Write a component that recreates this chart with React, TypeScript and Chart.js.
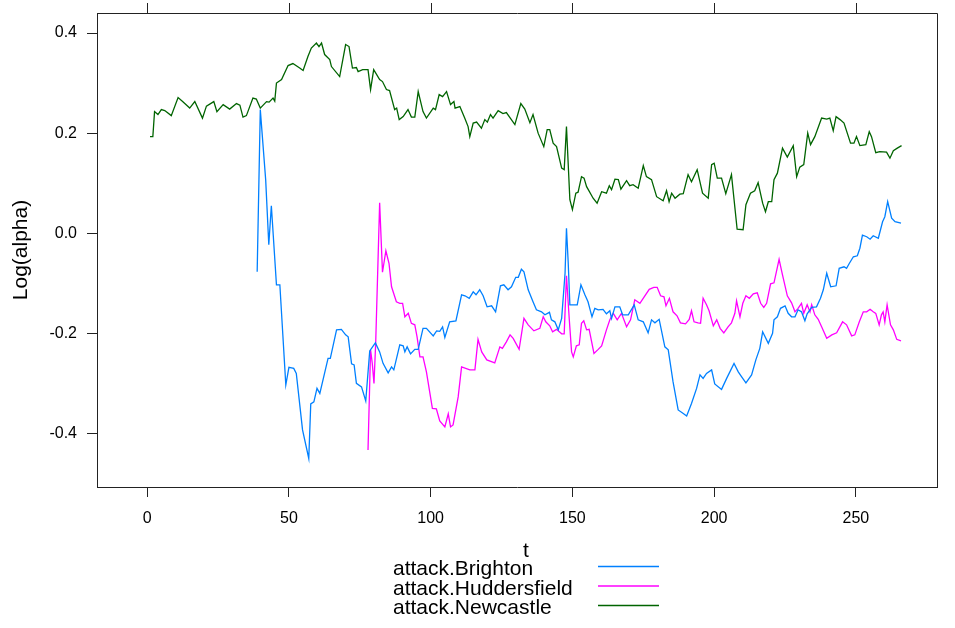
import { useEffect, useRef } from "react";
import { Chart, registerables } from "chart.js";

Chart.register(...registerables);

// Axis ticks
const xTickValues = [0, 50, 100, 150, 200, 250];
const yTickValues = [-0.4, -0.2, 0, 0.2, 0.4];

// Series names
const seriesNames = ["attack.Brighton", "attack.Huddersfield", "attack.Newcastle"];
const seriesColors = ["#0080ff", "#ff00ff", "#006400"];

// attack.Brighton
const brightonT = [38.8, 39.9, 41.8, 42.9, 43.8, 45.6, 46.8, 48.9, 50, 51.7, 52.6, 54.8, 57, 57.7, 58.8, 59.9, 60.9, 63.8, 64.6, 66.8, 68.5, 70, 70.9, 72.1, 73, 73.8, 75.6, 77.1, 78.5, 80.5, 82, 83.2, 85, 86.2, 87, 89.1, 90.3, 90.9, 91.7, 92.9, 94.4, 95.6, 97.3, 98.5, 100.9, 102.1, 103.2, 104.2, 105, 106.7, 108.9, 110.9, 112.1, 113.6, 115, 116, 117.3, 118.5, 119.9, 121.5, 122.9, 124.6, 125.8, 127.3, 128.5, 130, 130.9, 132, 132.9, 134.4, 136.1, 137.3, 139.1, 140.3, 141.9, 142.6, 143.8, 145, 146.2, 147.4, 147.9, 148.5, 149.1, 151.7, 153, 154.4, 155.5, 156.9, 157.9, 159.1, 160.8, 162, 163.2, 163.8, 165, 166.7, 167.7, 169.7, 171.8, 173.2, 175, 176.7, 177.9, 179.1, 180.6, 182.6, 183.8, 185.5, 187.3, 189.1, 190.3, 192, 193.8, 195, 196.1, 197.3, 199.1, 200.2, 202.6, 204.4, 207, 208.5, 209.7, 211.2, 213.2, 214.7, 216.1, 217.1, 219.1, 220.6, 221.1, 222.3, 223.4, 225, 226.1, 227.3, 228.5, 229.6, 230.8, 232, 232.8, 234.4, 236.1, 237.5, 238.5, 239.7, 241.1, 243, 244.1, 245.8, 246.7, 247.6, 249.1, 250.5, 251.4, 252.3, 253.8, 255, 256.1, 257.9, 259.4, 260.2, 261.2, 262.6, 263.8, 265.9];
const brightonV = [-0.077, 0.247, 0.107, -0.023, 0.055, -0.103, -0.103, -0.303, -0.268, -0.27, -0.28, -0.393, -0.45, -0.341, -0.337, -0.31, -0.32, -0.25, -0.25, -0.193, -0.192, -0.203, -0.207, -0.261, -0.263, -0.3, -0.307, -0.335, -0.235, -0.219, -0.237, -0.26, -0.279, -0.267, -0.273, -0.223, -0.225, -0.237, -0.227, -0.241, -0.232, -0.232, -0.19, -0.19, -0.205, -0.195, -0.196, -0.187, -0.208, -0.177, -0.175, -0.123, -0.125, -0.13, -0.117, -0.123, -0.113, -0.125, -0.147, -0.145, -0.157, -0.105, -0.103, -0.113, -0.107, -0.088, -0.088, -0.072, -0.077, -0.113, -0.137, -0.153, -0.157, -0.163, -0.158, -0.173, -0.177, -0.193, -0.17, -0.08, 0.01, -0.057, -0.143, -0.143, -0.103, -0.123, -0.137, -0.167, -0.15, -0.153, -0.152, -0.161, -0.155, -0.17, -0.147, -0.147, -0.163, -0.163, -0.143, -0.173, -0.177, -0.199, -0.173, -0.179, -0.172, -0.227, -0.233, -0.297, -0.353, -0.36, -0.365, -0.34, -0.31, -0.283, -0.29, -0.28, -0.273, -0.301, -0.312, -0.29, -0.26, -0.277, -0.287, -0.299, -0.283, -0.253, -0.23, -0.197, -0.22, -0.2, -0.173, -0.167, -0.15, -0.145, -0.16, -0.167, -0.167, -0.153, -0.157, -0.175, -0.161, -0.148, -0.147, -0.13, -0.113, -0.08, -0.107, -0.105, -0.07, -0.067, -0.07, -0.061, -0.047, -0.045, -0.03, -0.004, -0.007, -0.012, -0.005, -0.01, 0.023, 0.033, 0.063, 0.03, 0.023, 0.02];

// attack.Huddersfield
const huddersfieldT = [77.9, 78.8, 79.4, 80, 80.6, 82, 83, 84.2, 85.3, 86.2, 87.9, 89.1, 90.1, 90.9, 92.1, 93.2, 94.4, 95.2, 96.2, 97.3, 98.5, 100.6, 102, 103.2, 105, 106.2, 107, 107.9, 109.7, 110.9, 113.8, 115.6, 116.7, 118, 119.8, 122.6, 124.4, 125.3, 126.7, 128, 129.1, 131.2, 132.9, 134.4, 136.4, 138.5, 139.7, 140.6, 142, 143, 144.4, 146.2, 147.1, 147.9, 148.9, 149.7, 150.3, 151.4, 152.4, 153.2, 154, 155, 155.9, 157.6, 159.1, 160.3, 162, 163.2, 164.4, 165.8, 167.3, 169.1, 170.5, 172, 173.8, 175.2, 177.1, 178.7, 179.9, 181.1, 182.3, 183, 184.2, 185.5, 186.9, 188.1, 189.9, 191.2, 192, 192.9, 194.3, 195.2, 196.1, 197.3, 198.2, 199.7, 200.9, 202.1, 203.4, 204.9, 206.1, 207.3, 207.9, 209.1, 210.1, 211.2, 212.4, 213.8, 215.2, 216.4, 217.5, 218.5, 219.9, 221.1, 222.9, 224.1, 225.8, 227.3, 228.5, 229.6, 230.8, 231.6, 232.8, 233.8, 234.4, 235.5, 236.7, 237.9, 239.7, 241.5, 243.2, 245.3, 246.7, 248.5, 249.6, 251.2, 252.6, 253.8, 255, 256.1, 257, 258.2, 259, 259.6, 260.2, 261, 262.2, 263.2, 264.4, 265.9];
const huddersfieldV = [-0.433, -0.233, -0.26, -0.3, -0.22, 0.061, -0.078, -0.035, -0.06, -0.107, -0.137, -0.14, -0.14, -0.167, -0.16, -0.18, -0.183, -0.207, -0.247, -0.247, -0.277, -0.35, -0.351, -0.375, -0.387, -0.361, -0.387, -0.383, -0.327, -0.267, -0.273, -0.273, -0.212, -0.237, -0.253, -0.259, -0.227, -0.23, -0.217, -0.203, -0.21, -0.232, -0.17, -0.183, -0.195, -0.19, -0.167, -0.177, -0.185, -0.197, -0.192, -0.201, -0.201, -0.085, -0.173, -0.237, -0.247, -0.225, -0.223, -0.18, -0.175, -0.193, -0.192, -0.24, -0.232, -0.225, -0.193, -0.173, -0.16, -0.173, -0.16, -0.187, -0.173, -0.133, -0.14, -0.128, -0.112, -0.108, -0.108, -0.125, -0.127, -0.145, -0.13, -0.157, -0.165, -0.179, -0.181, -0.172, -0.155, -0.177, -0.179, -0.18, -0.13, -0.143, -0.155, -0.185, -0.173, -0.19, -0.199, -0.187, -0.179, -0.16, -0.135, -0.167, -0.14, -0.125, -0.13, -0.121, -0.119, -0.14, -0.148, -0.14, -0.101, -0.099, -0.052, -0.083, -0.125, -0.139, -0.157, -0.15, -0.14, -0.16, -0.143, -0.157, -0.143, -0.163, -0.172, -0.187, -0.21, -0.203, -0.199, -0.177, -0.183, -0.205, -0.203, -0.177, -0.157, -0.157, -0.152, -0.157, -0.16, -0.183, -0.163, -0.157, -0.177, -0.143, -0.183, -0.193, -0.212, -0.215];

// attack.Newcastle
const newcastleT = [1, 2, 2.6, 3.8, 5, 6.2, 8.5, 10.9, 12.5, 15, 16.8, 19.5, 20.9, 23.5, 24.6, 26.8, 29.1, 31.5, 32.7, 33.8, 35, 37.3, 38.5, 39.9, 42.1, 43, 44.4, 45, 45.6, 47.4, 49.7, 51.4, 53.8, 55, 56.7, 57.9, 59.7, 60.6, 61.5, 62.6, 64.4, 65, 67.9, 70, 71.2, 72.4, 73.8, 74.4, 76, 77.9, 78.8, 79.9, 82, 83, 84.4, 85.5, 87.3, 88, 88.9, 90.3, 92, 93.2, 94.4, 95.6, 97.3, 98.5, 100.9, 101.7, 103, 104.2, 105.6, 107, 108.2, 108.6, 110.3, 112, 113.2, 113.8, 115, 116.2, 117.9, 119.1, 120, 121.1, 122, 123.8, 125.5, 126.7, 129.7, 131.8, 133.2, 135, 136.1, 137.9, 139.9, 141.1, 142, 143.2, 144.4, 146.2, 147.1, 147.9, 149.1, 150, 151.2, 152, 153.2, 154.1, 155, 155.6, 157.3, 158.7, 160.3, 162, 163, 163.8, 165, 166.2, 167.1, 169.1, 170.2, 171.4, 173.2, 175, 176.1, 177.9, 179.7, 182, 183.2, 184.1, 185, 186.2, 187.9, 189.1, 190.8, 192, 194, 195.9, 197.9, 199.1, 200, 201.1, 202.6, 204.1, 206.1, 208.1, 210.2, 211.2, 212.8, 214.3, 215.5, 217.1, 218.1, 219.1, 220.3, 221.1, 222.3, 224.1, 225.8, 227.9, 229.1, 230.2, 231.6, 233, 234, 235.5, 237.9, 239.7, 240.8, 242, 243, 244.4, 245.8, 248.1, 249.3, 250.2, 251.4, 253.5, 254.7, 255.5, 257, 258.4, 260.8, 262, 263.2, 264.6, 266.1];
const newcastleV = [0.193, 0.193, 0.243, 0.237, 0.247, 0.245, 0.235, 0.271, 0.263, 0.25, 0.263, 0.23, 0.254, 0.263, 0.243, 0.257, 0.248, 0.259, 0.256, 0.232, 0.235, 0.27, 0.268, 0.25, 0.263, 0.262, 0.27, 0.264, 0.3, 0.307, 0.335, 0.339, 0.33, 0.325, 0.353, 0.37, 0.38, 0.373, 0.38, 0.357, 0.347, 0.333, 0.313, 0.377, 0.373, 0.33, 0.331, 0.323, 0.327, 0.327, 0.287, 0.327, 0.307, 0.303, 0.287, 0.285, 0.247, 0.25, 0.227, 0.233, 0.247, 0.232, 0.232, 0.283, 0.243, 0.23, 0.25, 0.247, 0.277, 0.273, 0.283, 0.257, 0.263, 0.25, 0.253, 0.23, 0.213, 0.193, 0.22, 0.222, 0.21, 0.227, 0.222, 0.237, 0.23, 0.245, 0.239, 0.241, 0.217, 0.259, 0.248, 0.221, 0.237, 0.2, 0.173, 0.207, 0.207, 0.18, 0.173, 0.13, 0.127, 0.213, 0.067, 0.047, 0.08, 0.082, 0.113, 0.11, 0.093, 0.087, 0.07, 0.06, 0.083, 0.08, 0.095, 0.087, 0.108, 0.107, 0.088, 0.105, 0.095, 0.097, 0.09, 0.135, 0.113, 0.107, 0.073, 0.065, 0.085, 0.063, 0.08, 0.07, 0.078, 0.079, 0.117, 0.103, 0.127, 0.08, 0.07, 0.137, 0.14, 0.11, 0.11, 0.079, 0.117, 0.008, 0.007, 0.057, 0.08, 0.085, 0.101, 0.06, 0.043, 0.063, 0.063, 0.107, 0.12, 0.17, 0.152, 0.175, 0.113, 0.132, 0.137, 0.2, 0.177, 0.193, 0.23, 0.228, 0.23, 0.205, 0.233, 0.227, 0.22, 0.18, 0.18, 0.193, 0.175, 0.177, 0.203, 0.193, 0.161, 0.163, 0.162, 0.15, 0.165, 0.17, 0.175];

const AXIS_COLOR = "#222";
const FONT_FAMILY = "'Liberation Sans', Arial, sans-serif";

const toPoints = (ts: number[], vs: number[]) => ts.map((t, i) => ({ x: t, y: vs[i] }));

// Panel box (top/right edges), top tick marks, x label and key below the panel
const panelDecor = {
  id: "panelDecor",
  afterDraw(chart: any) {
    const { ctx, chartArea: a, scales } = chart;
    ctx.save();
    ctx.strokeStyle = AXIS_COLOR;
    ctx.lineWidth = 1;
    ctx.beginPath();
    ctx.moveTo(a.left + 0.5, a.top + 0.5);
    ctx.lineTo(a.right + 0.5, a.top + 0.5);
    ctx.lineTo(a.right + 0.5, a.bottom + 0.5);
    for (const v of xTickValues) {
      const px = Math.round(scales.x.getPixelForValue(v)) + 0.5;
      ctx.moveTo(px, a.top + 0.5);
      ctx.lineTo(px, a.top - 10);
    }
    ctx.stroke();

    const cx = (a.left + a.right) / 2 + 9;
    ctx.fillStyle = "#000";
    ctx.font = `21px ${FONT_FAMILY}`;
    ctx.textAlign = "center";
    ctx.textBaseline = "alphabetic";
    ctx.fillText("t", cx, a.bottom + 70);

    ctx.textAlign = "left";
    const rowGap = 19.5;
    chart.data.datasets.forEach((ds: any, i: number) => {
      const base = a.bottom + 88 + i * rowGap;
      ctx.fillStyle = "#000";
      ctx.fillText(ds.label, cx - 133, base);
      ctx.strokeStyle = ds.borderColor;
      ctx.lineWidth = 1.3;
      ctx.beginPath();
      ctx.moveTo(cx + 72, base - 8.5);
      ctx.lineTo(cx + 133, base - 8.5);
      ctx.stroke();
    });
    ctx.restore();
  },
};

export default function App() {
  const canvasRef = useRef<HTMLCanvasElement | null>(null);

  useEffect(() => {
    const canvas = canvasRef.current;
    if (!canvas) return;
    const seriesT = [brightonT, huddersfieldT, newcastleT];
    const seriesV = [brightonV, huddersfieldV, newcastleV];
    const chart = new Chart(canvas, {
      type: "line",
      data: {
        datasets: seriesNames.map((name, i) => ({
          label: name,
          data: toPoints(seriesT[i], seriesV[i]),
          borderColor: seriesColors[i],
          backgroundColor: seriesColors[i],
          borderWidth: 1.3,
          pointRadius: 0,
          tension: 0,
          fill: false,
        })),
      },
      options: {
        animation: false,
        responsive: false,
        devicePixelRatio: 1,
        layout: { padding: { left: 0, top: 13, right: 18, bottom: 0 } },
        plugins: { legend: { display: false }, tooltip: { enabled: false } },
        scales: {
          x: {
            type: "linear",
            position: "bottom",
            min: -17.7,
            max: 278.6,
            afterBuildTicks: (s: any) => {
              s.ticks = xTickValues.map((v) => ({ value: v }));
            },
            afterFit: (s: any) => {
              s.height = 141;
              s.paddingLeft = 0;
              s.paddingRight = 0;
            },
            border: { display: true, color: AXIS_COLOR, width: 1 },
            grid: { drawOnChartArea: false, drawTicks: true, tickLength: 10, color: AXIS_COLOR },
            ticks: {
              color: "#000",
              padding: 12,
              font: { family: FONT_FAMILY, size: 16 },
              maxRotation: 0,
              callback: (v: any) => String(v),
            },
          },
          y: {
            type: "linear",
            min: -0.507,
            max: 0.44,
            afterBuildTicks: (s: any) => {
              s.ticks = yTickValues.map((v) => ({ value: v }));
            },
            afterFit: (s: any) => {
              s.width = 97;
              s.paddingTop = 0;
              s.paddingBottom = 0;
            },
            border: { display: true, color: AXIS_COLOR, width: 1 },
            grid: { drawOnChartArea: false, drawTicks: true, tickLength: 10, color: AXIS_COLOR },
            ticks: {
              color: "#000",
              padding: 10,
              font: { family: FONT_FAMILY, size: 16 },
              callback: (v: any) => Number(v).toFixed(1),
            },
            title: {
              display: true,
              text: "Log(alpha)",
              color: "#000",
              padding: { top: 9, bottom: 0 },
              font: { family: FONT_FAMILY, size: 21 },
            },
          },
        },
      },
      plugins: [panelDecor],
    });
    return () => chart.destroy();
  }, []);

  return (
    <div style={{ position: "fixed", left: 0, top: 0, width: 955, height: 628, background: "#fff" }}>
      <canvas ref={canvasRef} width={955} height={628} style={{ display: "block" }} />
    </div>
  );
}
